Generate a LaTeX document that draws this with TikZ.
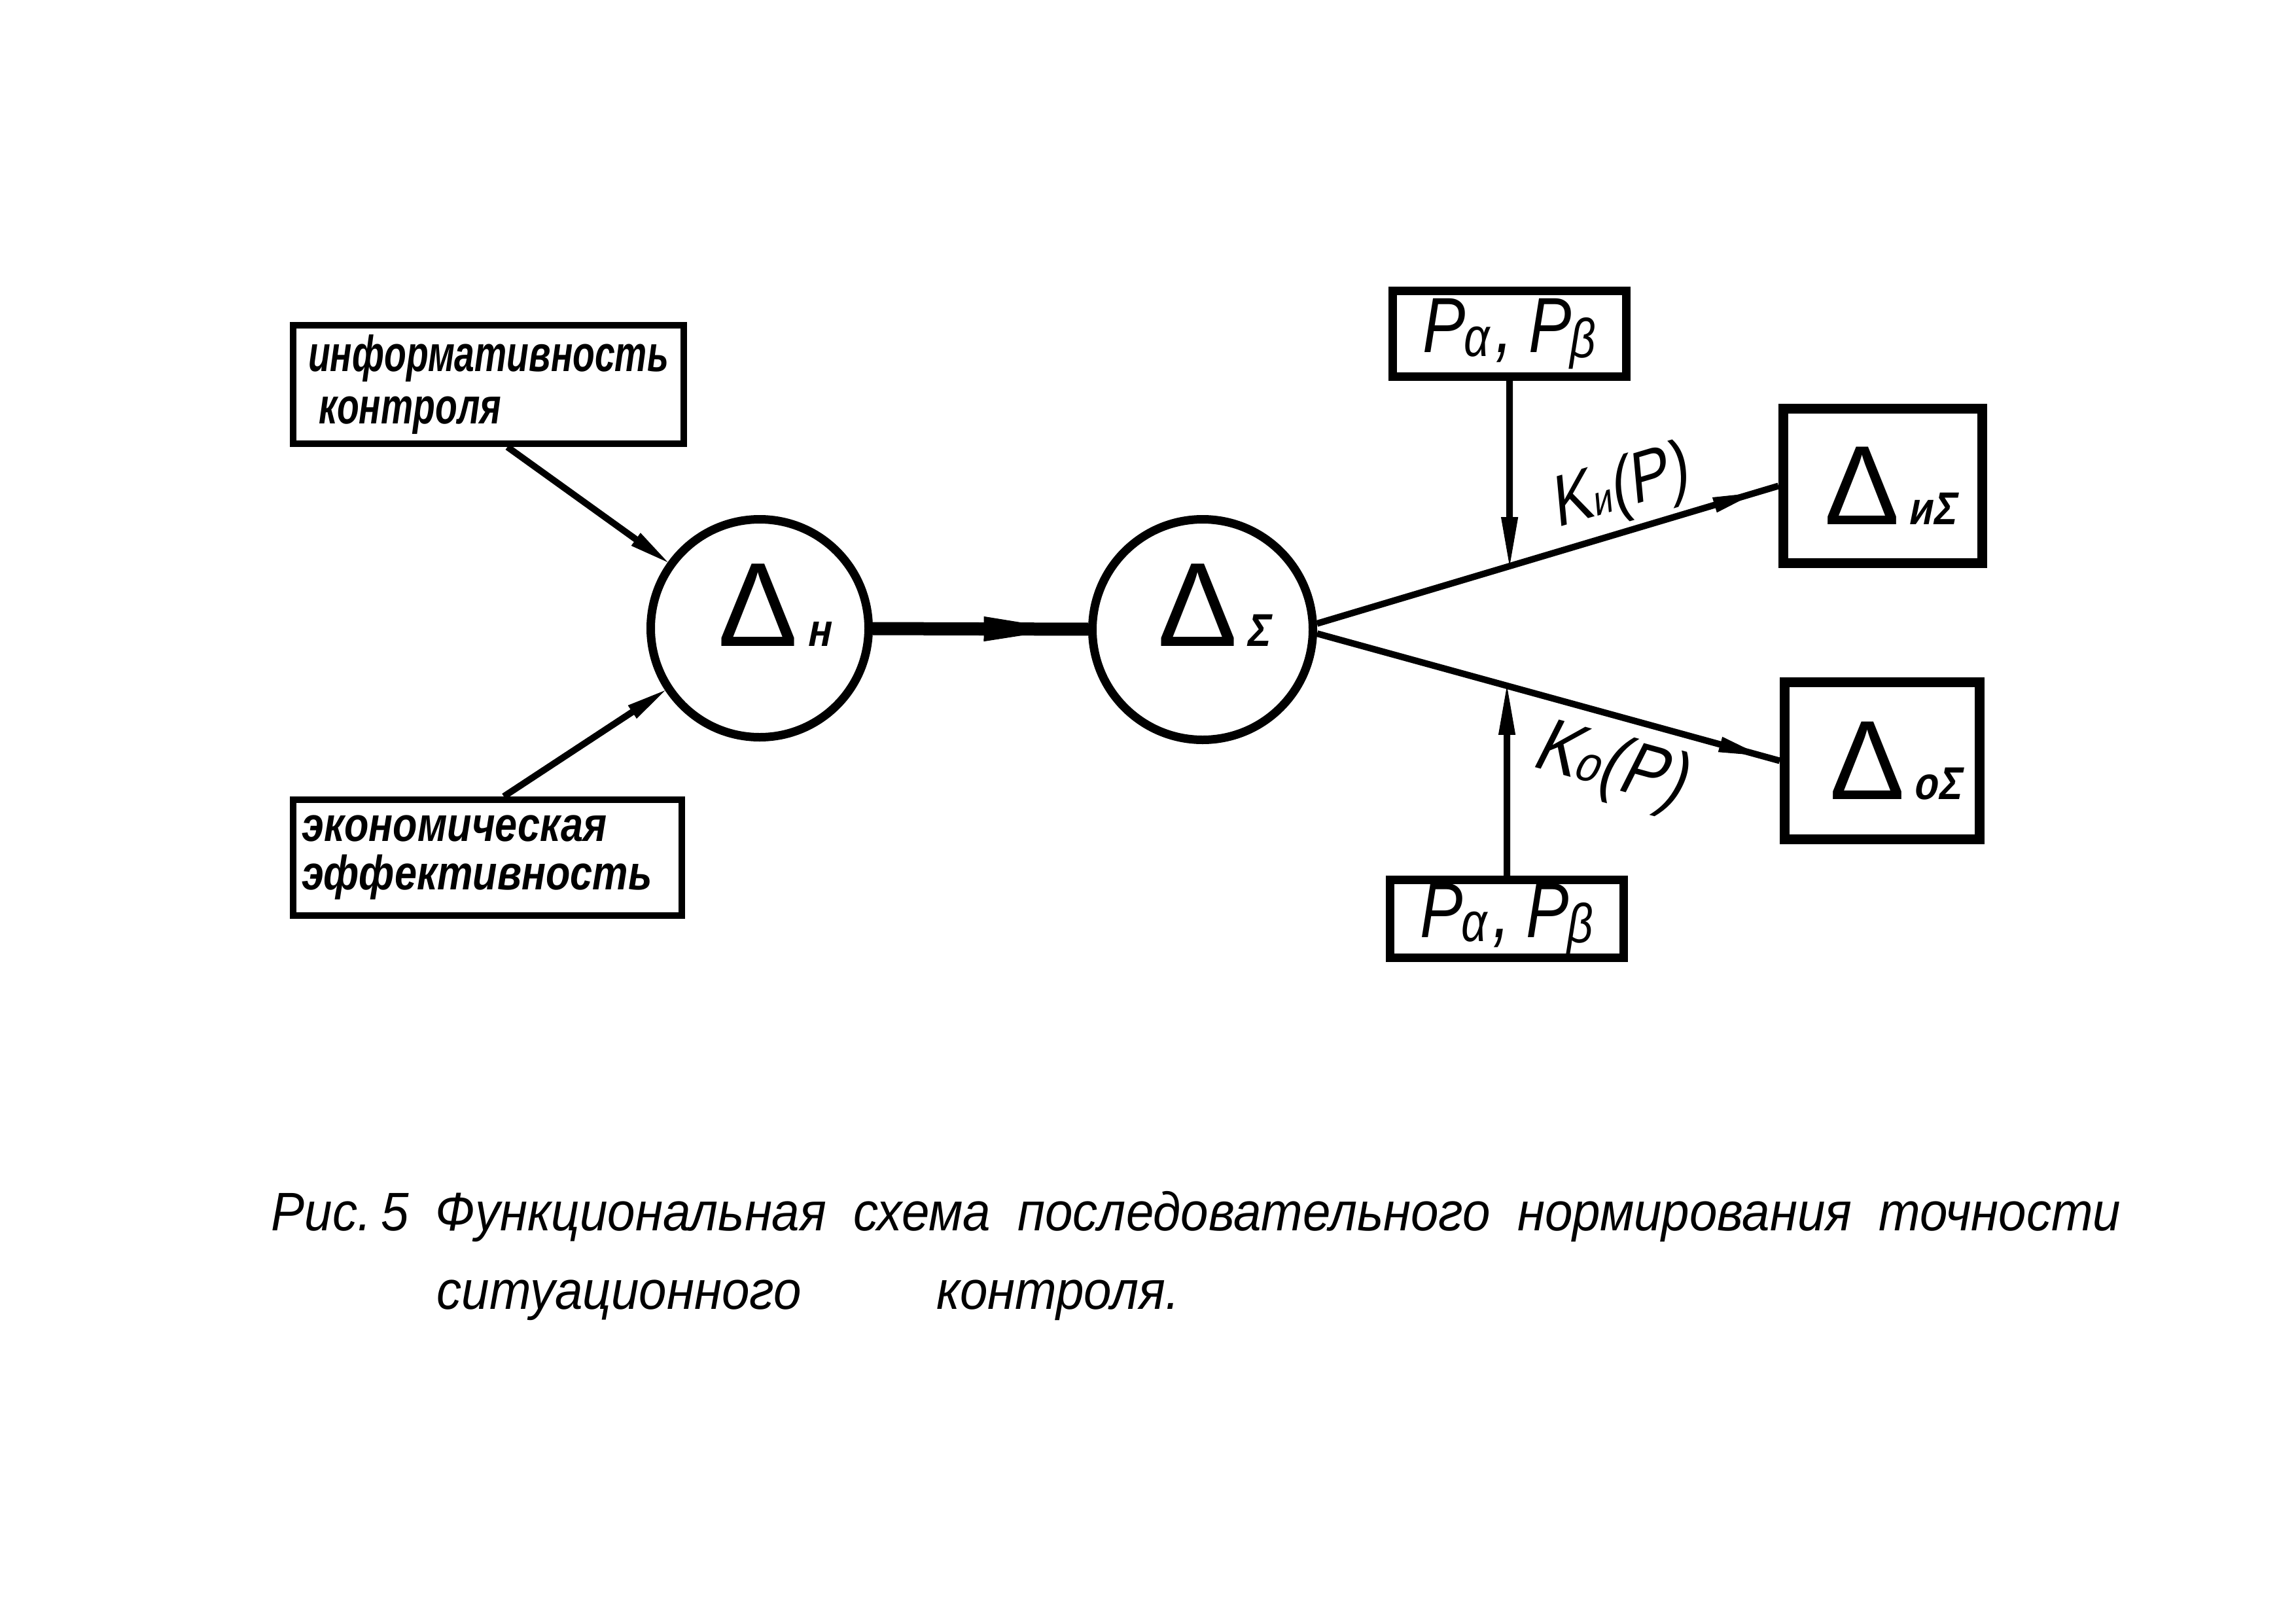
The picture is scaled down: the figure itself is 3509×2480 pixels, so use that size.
\documentclass[tikz,border=0pt]{standalone}
\usepackage{fontspec}
\setmainfont{Liberation Sans}
\newfontfamily\boxfont[FakeStretch=0.715]{Liberation Sans}
\newfontfamily\boxfontB[FakeStretch=0.83]{Liberation Sans}
\newfontfamily\slfont[FakeStretch=0.85,FakeSlant=0.2]{Liberation Sans}
\newfontfamily\pfont[FakeStretch=0.82]{Liberation Sans}
\newfontfamily\capfont[FakeStretch=0.92]{Liberation Sans}
\usetikzlibrary{arrows.meta,decorations.markings}
\newlength\upx
\setlength\upx{0.1mm}
\newcommand\PPair[2]{\pfont\fontsize{34pt}{34pt}\selectfont\itshape P\hspace{-2\upx}\raisebox{-6\upx}{\fontsize{24pt}{24pt}\selectfont #1}\hspace{8\upx},\hspace{24\upx}P\hspace{-2\upx}\raisebox{-8\upx}{\fontsize{24pt}{24pt}\selectfont #2}}
\newcommand\DeltaLbl[2]{{\fontsize{#1}{#1}\selectfont Δ}\hspace{12\upx}{\slfont\bfseries\fontsize{20pt}{20pt}\selectfont #2}}
\begin{document}
\begin{tikzpicture}[x=0.1mm,y=-0.1mm,
  txtbox/.style={draw, line width=1mm, inner sep=1mm, align=left},
  circnode/.style={draw, circle, line width=1.3mm, inner sep=0pt},
  pbox/.style={draw, line width=1.3mm, minimum width=35.7mm, inner sep=0pt},
  dbox/.style={draw, line width=1.5mm, inner sep=0pt},
  conn/.style={line width=1mm},
  tipS/.style={-{Triangle[length=6mm,width=2.4mm,line width=0.1mm]}},
  tipV/.style={-{Triangle[length=7.5mm,width=2.6mm,line width=0.1mm]}},
  midarrow/.style={postaction={decorate}, decoration={markings, mark=at position #1 with {\arrow{Triangle[length=6.5mm,width=2.4mm,line width=0.1mm]}}}},
  lblfont/.style={font=\slfont\fontsize{#1}{#1}\selectfont}
]
\useasboundingbox (0,0) rectangle (3509,2480);
\fill[white] (0,0) rectangle (3509,2480);

% input boxes
\node[txtbox, minimum width=59.7mm, minimum height=18.1mm,
      font=\boxfont\bfseries\itshape\fontsize{22pt}{22.8pt}\selectfont] (b1) at (746.5,587.5)
      {информативность\\\hspace*{1.6mm}контроля};
\node[txtbox, minimum width=59.4mm, minimum height=17.7mm,
      font=\boxfontB\bfseries\itshape\fontsize{21pt}{21pt}\selectfont] (b2) at (745,1310.5)
      {экономическая\\эффективность\hspace*{3.2mm}};

% circles
\node[circnode, minimum size=33.3mm, text depth=7mm] (c1) at (1161,960)
      {\hspace*{4.4mm}\DeltaLbl{52pt}{н}};
\node[circnode, minimum size=33.7mm, text depth=7.4mm] (c2) at (1838,962)
      {\hspace*{3.2mm}\DeltaLbl{52pt}{Σ}};

% P boxes
\node[pbox, minimum height=13.1mm] (p1) at (2307,510) {\PPair{α}{β}};
\node[pbox, minimum height=11.9mm] (p2) at (2303,1404) {\PPair{α}{β}};

% output boxes
\node[dbox, minimum width=30.4mm, minimum height=23.6mm] (d1) at (2877.5,742.5)
      {\hspace*{2.2mm}\DeltaLbl{49pt}{иΣ}};
\node[dbox, minimum width=29.8mm, minimum height=24mm] (d2) at (2876.5,1162.5)
      {\hspace*{4mm}\DeltaLbl{49pt}{оΣ}};

% connectors
\draw[conn, tipS] ([xshift=2.9mm]b1.south) -- (c1);
\draw[conn, tipS] ([xshift=2.5mm]b2.north) -- (c1);
\draw[line width=2mm, postaction={decorate},
      decoration={markings, mark=at position 0.88 with {\arrow{Triangle[length=12mm,width=3.8mm,line width=0.1mm]}}}]
      (c1) -- (c2);

\draw[conn, midarrow=0.95] (c2.3) --
   node[pos=0.68, above=-0.4mm, sloped, lblfont=31pt] (lku) {K{\fontsize{18pt}{18pt}\selectfont и}(P)}
   (d1.west);
\draw[conn, midarrow=0.96] (c2.358) --
   node[pos=0.66, below=0.8mm, sloped, lblfont=33pt] (lko) {K{\fontsize{22pt}{22pt}\selectfont о}(P)}
   (d2.west);

\coordinate (j1) at (intersection of c2.3--d1.west and p1.south--p1.north);
\coordinate (j2) at (intersection of c2.358--d2.west and p2.north--p2.south);
\draw[conn, tipV] (p1.south) -- (j1);
\draw[conn, tipV] (p2.north) -- (j2);

% caption
\node[anchor=base west, inner sep=0pt, font=\capfont\itshape\fontsize{23.6pt}{23.6pt}\selectfont] (cap1) at (414,1880)
  {\makebox[282.7mm][s]{Рис.\hspace{15\upx}5 Функциональная схема последовательного нормирования точности}};
\node[anchor=base west, inner sep=0pt, font=\capfont\itshape\fontsize{23.6pt}{23.6pt}\selectfont] (cap2) at (667,2000)
  {\makebox[113.5mm][s]{ситуационного контроля.}};
\end{tikzpicture}
\end{document}
